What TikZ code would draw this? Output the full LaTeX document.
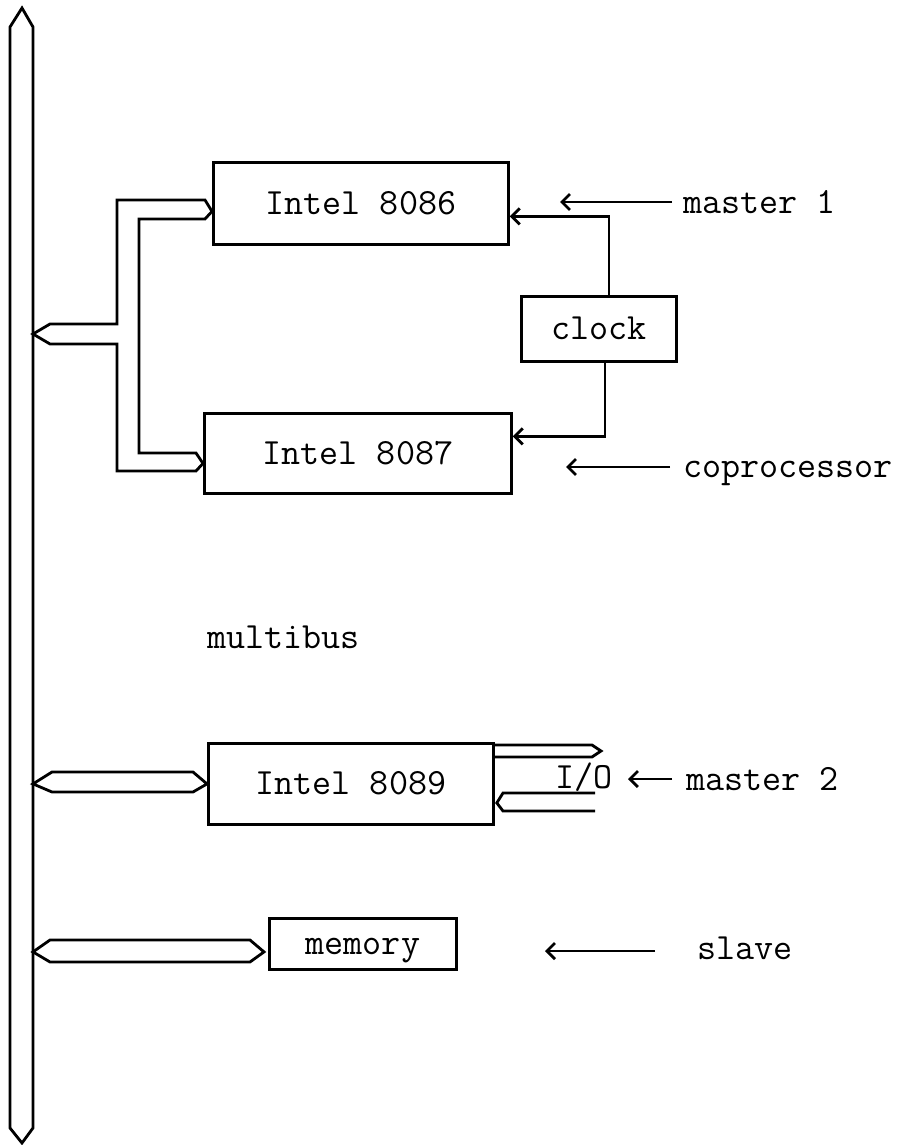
\documentclass[tikz,border=0pt]{standalone}
\usetikzlibrary{arrows.meta,calc}
\begin{document}
\begin{tikzpicture}[x=1pt,y=-1pt,
  every node/.style={font=\ttfamily\fontsize{37}{37}\selectfont, text height=22pt, text depth=0pt, inner sep=0pt},
  box/.style={draw, line width=2.8pt, anchor=north west},
  lbl/.style={anchor=west},
  arr/.style={line width=2.8pt, -{Straight Barb[length=8pt,width=16pt,line width=2.8pt]}},
  pipe/.style={line width=2.8pt, line join=miter}]
\useasboundingbox (0,0) rectangle (902,1145);

% boxes
\node[box, minimum width=295pt, minimum height=82pt] (i8086) at (212,161) {Intel 8086};
\node[box, minimum width=307pt, minimum height=80pt] (i8087) at (203,412) {Intel 8087};
\node[box, minimum width=155pt, minimum height=65pt] (clock) at (520,295) {clock};
\node[box, minimum width=285pt, minimum height=81pt] (i8089) at (207,742) {Intel 8089};
\node[box, minimum width=187pt, minimum height=51pt] (memory) at (268,917) {memory};

% labels
\node[lbl] (m1) at (683,202) {master 1};
\node[lbl] (cop) at (683,466) {coprocessor};
\node[lbl] (mb) at (207,637) {multibus};
\node[lbl] (m2) at (686,779) {master 2};
\node[lbl] (io) at (555,777) {I/O};
\node[lbl] (sl) at (697,948) {slave};

% bus
\draw[pipe] (10,1128) -- (10,27) -- (22,8) -- (33,27) -- (33,1128) -- (22,1143) -- cycle;
\coordinate (busR) at (33,0);

% pipe from bus to 8086 and 8087
\coordinate (t86) at ($(i8086.west)+(0,8)$);
\coordinate (t87) at ($(i8087.west)+(0,10)$);
\draw[pipe] (busR |- 0,334) -- (50,324) -- (117,324) -- (117,200) -- (205,200) -- (t86)
  -- (205,219) -- (139,219) -- (139,453) -- (196,453) -- (t87) -- (196,471)
  -- (117,471) -- (117,344) -- (50,344) -- cycle;

% pipe from bus to 8089
\draw[pipe] (busR |- i8089.west) -- (52,772) -- (193,772) -- (i8089.west) -- (193,792) -- (52,792) -- cycle;

% pipe from bus to memory
\coordinate (tm) at ($(memory.west)+(-4,8)$);
\draw[pipe] (busR |- tm) -- (50,940) -- (250,940) -- (tm) -- (250,962) -- (50,962) -- cycle;

% I/O pipes
\coordinate (ioout) at (601,751);
\draw[pipe] (494,745) -- (592,745) -- (ioout) -- (592,757) -- (494,757);
\coordinate (ioin) at ($(i8089.east)+(2,19)$);
\draw[pipe] (595,793) -- (503,793) -- (ioin) -- (503,811) -- (595,811);

% clock connections
\draw[arr] ($(clock.north)+(10,0)$) |- ($(i8086.east)+(0,13)$);
\draw[arr] ($(clock.south)+(6,0)$) |- ($(i8087.east)+(0,-17)$);

% role arrows
\coordinate (m1tip) at (560,202);
\draw[arr] ($(m1.west)+(-11,0)$) -- (m1tip);
\coordinate (coptip) at (566,467);
\draw[arr] ($(cop.west)+(-13,1)$) -- (coptip);
\coordinate (m2tip) at (628,779);
\draw[arr] ($(m2.west)+(-14,0)$) -- (m2tip);
\coordinate (sltip) at (545,951);
\draw[arr] ($(sl.west)+(-42,3)$) -- (sltip);
\end{tikzpicture}
\end{document}
